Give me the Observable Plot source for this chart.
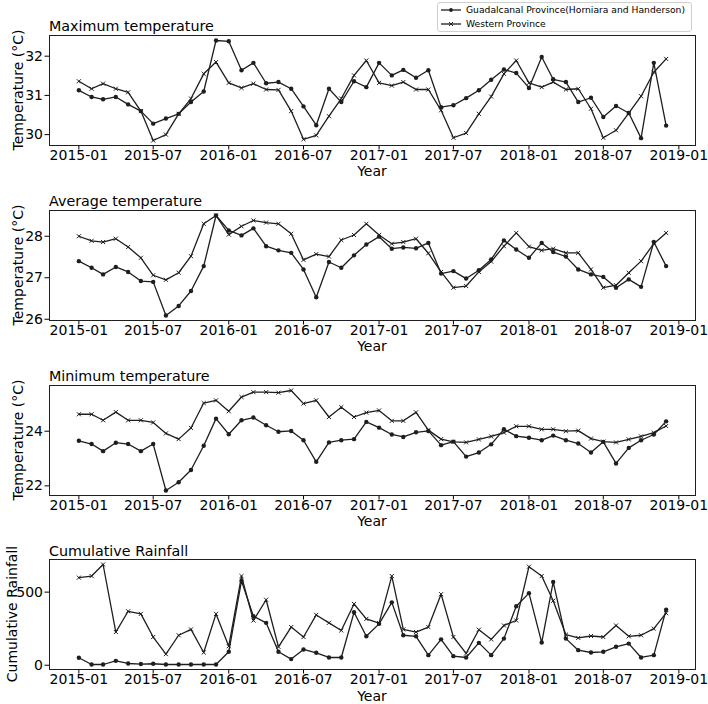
<!DOCTYPE html>
<html><head><meta charset="utf-8">
<script src="https://cdn.jsdelivr.net/npm/d3@7"></script>
<script src="https://cdn.jsdelivr.net/npm/@observablehq/plot@0.6"></script>
<style>
html,body{margin:0;padding:0;background:#fff;}
#chart{position:relative;width:708px;height:704px;font-family:"DejaVu Sans",sans-serif;color:#000;overflow:hidden;background:#fff}
.abs{position:absolute;white-space:nowrap;line-height:1}
.plot{position:absolute;left:0}
.legend{position:absolute;left:437px;top:2px;width:253px;height:28px;border:1px solid #cfcfcf;border-radius:3px;background:#fff;font-size:9.2px}
.legend .row{position:absolute;left:0;height:12px;line-height:12px}
.legend svg{position:absolute;left:2px;top:0}
.legend span{position:absolute;left:28px;top:0;white-space:nowrap}
</style></head><body><div id="chart"></div>
<script>
// ---- data ----
const months = ["2015-01","2015-02","2015-03","2015-04","2015-05","2015-06","2015-07","2015-08","2015-09","2015-10","2015-11","2015-12",
"2016-01","2016-02","2016-03","2016-04","2016-05","2016-06","2016-07","2016-08","2016-09","2016-10","2016-11","2016-12",
"2017-01","2017-02","2017-03","2017-04","2017-05","2017-06","2017-07","2017-08","2017-09","2017-10","2017-11","2017-12",
"2018-01","2018-02","2018-03","2018-04","2018-05","2018-06","2018-07","2018-08","2018-09","2018-10","2018-11","2018-12"];
const xTickLabels = ["2015-01","2015-07","2016-01","2016-07","2017-01","2017-07","2018-01","2018-07","2019-01"];
const seriesNames = ["Guadalcanal Province(Horniara and Handerson)","Western Province"];
const panelTitles = ["Maximum temperature","Average temperature","Minimum temperature","Cumulative Rainfall"];
const yLabels = ["Temperature (°C)","Temperature (°C)","Temperature (°C)","Cumulative Rainfall"];
const xLabel = "Year";

const maxGuad = [31.13,30.96,30.90,30.96,30.77,30.60,30.28,30.41,30.53,30.83,31.10,32.40,32.38,31.64,31.83,31.31,31.34,31.17,30.72,30.24,31.17,30.83,31.36,31.21,31.83,
31.51,31.65,31.45,31.64,30.70,30.75,30.93,31.13,31.40,31.66,31.57,31.19,31.98,31.41,31.34,30.83,30.94,30.45,30.73,30.55,29.91,31.83,30.23];
const maxWest = [31.36,31.17,31.30,31.17,31.08,30.60,29.85,30.00,30.53,30.92,31.55,31.85,31.32,31.19,31.30,31.15,31.14,30.60,29.88,29.98,30.47,30.92,31.51,31.89,31.32,
31.25,31.34,31.15,31.15,30.62,29.92,30.04,30.53,30.97,31.55,31.89,31.32,31.21,31.34,31.15,31.17,30.66,29.92,30.11,30.55,30.98,31.59,31.93];
const avgGuad = [27.40,27.24,27.08,27.26,27.14,26.92,26.90,26.09,26.32,26.68,27.28,28.50,28.14,28.02,28.19,27.76,27.66,27.60,27.20,26.53,27.38,27.24,27.54,27.80,27.99,
27.70,27.73,27.71,27.84,27.10,27.16,26.98,27.18,27.44,27.90,27.68,27.48,27.84,27.62,27.51,27.20,27.08,27.02,26.76,26.96,26.78,27.86,27.28];
const avgWest = [28.00,27.89,27.86,27.94,27.74,27.48,27.06,26.95,27.12,27.52,28.30,28.50,28.04,28.24,28.38,28.33,28.30,28.06,27.43,27.57,27.51,27.91,28.03,28.30,28.03,
27.82,27.86,27.94,27.59,27.14,26.76,26.80,27.14,27.39,27.76,28.08,27.75,27.66,27.70,27.60,27.60,27.20,26.76,26.82,27.12,27.40,27.82,28.08];
const minGuad = [23.65,23.53,23.27,23.58,23.53,23.27,23.53,21.83,22.13,22.58,23.47,24.46,23.89,24.40,24.50,24.22,23.98,24.01,23.67,22.88,23.59,23.67,23.71,24.34,24.13,
23.88,23.79,23.96,24.01,23.49,23.62,23.07,23.22,23.52,24.07,23.82,23.76,23.67,23.84,23.67,23.55,23.22,23.61,22.82,23.39,23.67,23.88,24.36];
const minWest = [24.62,24.62,24.40,24.70,24.40,24.40,24.32,23.92,23.71,24.12,25.03,25.13,24.73,25.25,25.43,25.43,25.41,25.49,25.01,25.13,24.52,24.88,24.52,24.68,24.76,
24.38,24.38,24.69,24.04,23.71,23.61,23.59,23.70,23.81,23.95,24.18,24.18,24.07,24.07,24.00,24.02,23.73,23.62,23.59,23.70,23.81,23.95,24.19];
const rainGuad = [51,5,5,30,12,8,10,5,5,5,5,5,92,577,335,290,92,42,108,85,53,53,362,198,283,
430,205,198,69,177,62,53,153,69,182,403,493,155,570,182,103,87,92,126,148,53,69,380];
const rainWest = [599,610,689,227,369,351,193,76,205,245,87,351,130,610,306,448,126,261,193,344,290,238,419,317,288,
610,245,227,261,486,193,81,243,177,272,306,674,610,441,209,187,200,193,272,198,205,250,356];
const yTickValues = [[30,31,32],[26,27,28],[22,24],[0,500]];

// ---- layout ----
const W = 708, ML = 49, MR = 13, MT = 2, MB = 24, FH = 110;
const frameTops = [34.5, 209.5, 384.5, 559];
const parse = d3.utcParse("%Y-%m");
const dates = months.map(parse);
const xTicks = xTickLabels.map(parse);
const ink = "#1e1e1e";
const chart = document.getElementById("chart");

function addText(txt, css) {
  const d = document.createElement("div");
  d.className = "abs";
  d.textContent = txt;
  Object.assign(d.style, css);
  chart.appendChild(d);
  return d;
}

const panels = [[maxGuad,maxWest],[avgGuad,avgWest],[minGuad,minWest],[rainGuad,rainWest]];
panels.forEach(([g, w], k) => {
  const rows = dates.map((date, i) => ({date, g: g[i], w: w[i]}));
  const ext = d3.extent(g.concat(w));
  const py = (ext[1] - ext[0]) * 0.05;
  const t0 = +dates[0], t1 = +dates[dates.length - 1];
  const px = (t1 - t0) * 0.05;
  const p = Plot.plot({
    width: W, height: MT + FH + MB,
    marginLeft: ML, marginRight: MR, marginTop: MT, marginBottom: MB,
    style: {fontFamily: "DejaVu Sans", fontSize: "14px", color: "#000", background: "transparent", overflow: "visible"},
    x: {type: "utc", domain: [new Date(t0 - px), new Date(t1 + px)], ticks: xTicks, tickFormat: d3.utcFormat("%Y-%m"), tickSize: 4.5, tickPadding: 0.5, label: null},
    y: {domain: [ext[0] - py, ext[1] + py], ticks: yTickValues[k], tickFormat: d3.format("d"), tickSize: 4.5, tickPadding: 2, label: null},
    marks: [
      Plot.lineY(rows, {x: "date", y: "g", stroke: ink, strokeWidth: 1.3}),
      Plot.dot(rows, {x: "date", y: "g", r: 2.2, fill: ink, stroke: null, symbol: "circle"}),
      Plot.lineY(rows, {x: "date", y: "w", stroke: ink, strokeWidth: 1.3}),
      Plot.dot(rows, {x: "date", y: "w", r: 2, stroke: ink, strokeWidth: 1, symbol: "times"}),
      Plot.frame({stroke: ink, strokeWidth: 1})
    ]
  });
  p.classList.add("plot");
  p.style.top = (frameTops[k] - MT) + "px";
  chart.appendChild(p);

  const top = frameTops[k], bottom = top + FH;
  // panel title (left aligned above frame)
  addText(panelTitles[k], {left: ML + "px", top: (top - 3 - 12.1) + "px", fontSize: "14.3px"});
  // x axis label (tight line box, baseline 31.5px below frame)
  addText(xLabel, {left: (ML + (W - MR - ML) / 2 - 100) + "px", width: "200px", textAlign: "center", top: (bottom + 31.5 - 9.85) + "px", fontSize: "14px", lineHeight: "10px", height: "10px"});
  // y axis label (rotated)
  const cx = k === 3 ? 11.5 : 17.5;
  addText(yLabels[k], {left: (cx - 120) + "px", width: "240px", textAlign: "center", top: (top + FH / 2 - 7) + "px", height: "14px", fontSize: "14px", transform: "rotate(-90deg)"});
});

// ---- legend ----
const leg = document.createElement("div");
leg.className = "legend";
seriesNames.forEach((name, i) => {
  const row = document.createElement("div");
  row.className = "row";
  row.style.top = (i === 0 ? 1 : 14.7) + "px";
  row.style.width = "100%";
  const sym = i === 0
    ? `<circle cx="11" cy="6" r="1.9" fill="${ink}"/>`
    : `<path d="M9,4L13,8M13,4L9,8" stroke="${ink}" stroke-width="1"/>`;
  row.innerHTML = `<svg width="22" height="12"><line x1="1" x2="21" y1="6" y2="6" stroke="${ink}" stroke-width="1.3"/>${sym}</svg><span></span>`;
  row.querySelector("span").textContent = name;
  leg.appendChild(row);
});
chart.appendChild(leg);
</script></body></html>
